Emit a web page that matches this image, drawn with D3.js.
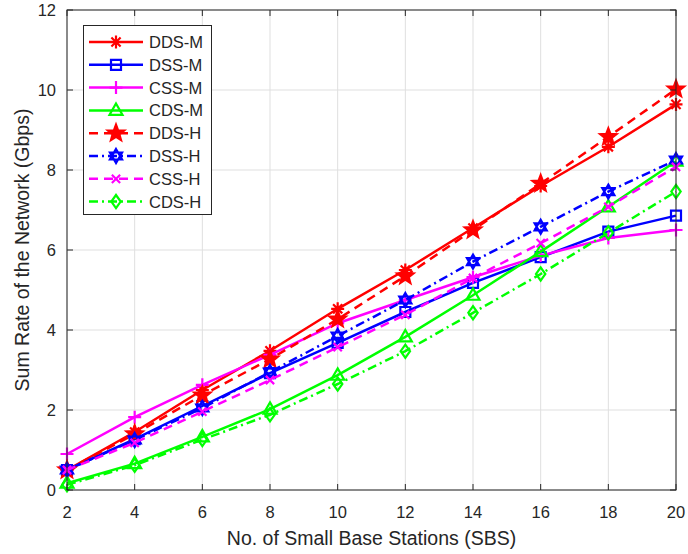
<!DOCTYPE html>
<html>
<head>
<meta charset="utf-8">
<script src="https://cdn.jsdelivr.net/npm/d3@7"></script>
<style>
  html, body { margin: 0; padding: 0; background: #fff; }
  svg { display: block; }
  text { font-family: "Liberation Sans", Arial, Helvetica, sans-serif; fill: #262626; }
</style>
</head>
<body>
<svg id="chart" width="688" height="554"></svg>
<script>
// Number of small base stations on the x axis
const sbs = [2, 4, 6, 8, 10, 12, 14, 16, 18, 20];

// Sum rate (Gbps) per scheme
const ddsM = [0.5, 1.45, 2.5, 3.48, 4.53, 5.5, 6.55, 7.6, 8.58, 9.64];
const dssM = [0.5, 1.27, 2.1, 2.92, 3.68, 4.45, 5.18, 5.82, 6.46, 6.86];
const cssM = [0.9, 1.82, 2.63, 3.38, 4.17, 4.75, 5.32, 5.86, 6.3, 6.5];
const cdsM = [0.17, 0.66, 1.33, 2.02, 2.87, 3.83, 4.87, 5.96, 7.08, 8.22];
const ddsH = [0.5, 1.4, 2.37, 3.27, 4.27, 5.35, 6.5, 7.66, 8.83, 10.02];
const dssH = [0.5, 1.25, 2.05, 2.95, 3.85, 4.75, 5.71, 6.58, 7.46, 8.25];
const cssH = [0.5, 1.18, 1.96, 2.75, 3.57, 4.38, 5.3, 6.17, 7.08, 8.08];
const cdsH = [0.13, 0.62, 1.26, 1.88, 2.65, 3.47, 4.43, 5.4, 6.43, 7.46];

const xTicks = [2, 4, 6, 8, 10, 12, 14, 16, 18, 20];
const yTicks = [0, 2, 4, 6, 8, 10, 12];

const seriesNames = ["DDS-M", "DSS-M", "CSS-M", "CDS-M", "DDS-H", "DSS-H", "CSS-H", "CDS-H"];
const seriesValues = [ddsM, dssM, cssM, cdsM, ddsH, dssH, cssH, cdsH];
const seriesColors = ["#ff0000", "#0000ff", "#ff00ff", "#00ff00", "#ff0000", "#0000ff", "#ff00ff", "#00ff00"];
const seriesDash = ["", "", "", "", "9,6", "9,4,2,4", "9,6", "9,4,2,4"];
const seriesMarker = ["asterisk", "square", "plus", "triangle", "pentagram", "hexagram", "cross", "diamond"];

const svg = d3.select("#chart");
const margin = { left: 67, right: 12, top: 10, bottom: 64 };
const W = 688, H = 554;
const x = d3.scaleLinear().domain([2, 20]).range([margin.left, W - margin.right]);
const y = d3.scaleLinear().domain([0, 12]).range([H - margin.bottom, margin.top]);
const axisColor = "#262626";

// Grid
const grid = svg.append("g");
grid.selectAll("line.gx").data(xTicks).join("line")
  .attr("x1", d => x(d)).attr("x2", d => x(d))
  .attr("y1", y(0)).attr("y2", y(12))
  .attr("stroke", "#dfdfdf").attr("stroke-width", 1);
grid.selectAll("line.gy").data(yTicks).join("line")
  .attr("x1", x(2)).attr("x2", x(20))
  .attr("y1", d => y(d)).attr("y2", d => y(d))
  .attr("stroke", "#dfdfdf").attr("stroke-width", 1);

// Marker shapes (open unless noted), size s is full width
function markerPath(type, s) {
  const r = s / 2;
  const p = d3.path();
  if (type === "asterisk") {
    for (let k = 0; k < 4; k++) {
      const a = k * Math.PI / 4;
      p.moveTo(-r * Math.cos(a), -r * Math.sin(a));
      p.lineTo(r * Math.cos(a), r * Math.sin(a));
    }
  } else if (type === "square") {
    p.rect(-r, -r, s, s);
  } else if (type === "plus") {
    p.moveTo(-r, 0); p.lineTo(r, 0); p.moveTo(0, -r); p.lineTo(0, r);
  } else if (type === "cross") {
    const q = r * 0.75;
    p.moveTo(-q, -q); p.lineTo(q, q); p.moveTo(-q, q); p.lineTo(q, -q);
  } else if (type === "triangle") {
    p.moveTo(0, -r * 1.05); p.lineTo(r, r * 0.7); p.lineTo(-r, r * 0.7); p.closePath();
  } else if (type === "diamond") {
    p.moveTo(0, -r * 1.2); p.lineTo(r * 0.85, 0); p.lineTo(0, r * 1.2); p.lineTo(-r * 0.85, 0); p.closePath();
  } else if (type === "pentagram") {
    for (let k = 0; k < 10; k++) {
      const a = -Math.PI / 2 + k * Math.PI / 5;
      const rr = k % 2 === 0 ? r : r * 0.42;
      if (k === 0) p.moveTo(rr * Math.cos(a), rr * Math.sin(a));
      else p.lineTo(rr * Math.cos(a), rr * Math.sin(a));
    }
    p.closePath();
  } else if (type === "hexagram") {
    for (let t = 0; t < 2; t++) {
      for (let k = 0; k < 3; k++) {
        const a = (t === 0 ? -Math.PI / 2 : Math.PI / 2) + k * 2 * Math.PI / 3;
        if (k === 0) p.moveTo(r * Math.cos(a), r * Math.sin(a));
        else p.lineTo(r * Math.cos(a), r * Math.sin(a));
      }
      p.closePath();
    }
  }
  return p.toString();
}
const markerSize = { asterisk: 13, square: 10, plus: 13, cross: 11, triangle: 13, diamond: 11, pentagram: 17, hexagram: 14 };

function drawMarker(g, type, color, cx, cy) {
  const filled = type === "pentagram";
  g.append("path")
    .attr("d", markerPath(type, markerSize[type]))
    .attr("transform", `translate(${cx},${cy})`)
    .attr("fill", filled ? color : "none")
    .attr("stroke", color)
    .attr("stroke-width", 2.2)
    .attr("stroke-linejoin", "miter");
}

// Series lines and markers
const line = d3.line().x((d, i) => x(sbs[i])).y(d => y(d));
const plot = svg.append("g");
seriesValues.forEach((vals, si) => {
  const g = plot.append("g");
  g.append("path")
    .datum(vals)
    .attr("d", line)
    .attr("fill", "none")
    .attr("stroke", seriesColors[si])
    .attr("stroke-width", 2.5)
    .attr("stroke-dasharray", seriesDash[si] || null);
  vals.forEach((v, i) => drawMarker(g, seriesMarker[si], seriesColors[si], x(sbs[i]), y(v)));
});

// Axes box with inward ticks on all four sides
const axes = svg.append("g");
axes.append("rect")
  .attr("x", x(2)).attr("y", y(12))
  .attr("width", x(20) - x(2)).attr("height", y(0) - y(12))
  .attr("fill", "none").attr("stroke", axisColor).attr("stroke-width", 1);
const tl = 6;
xTicks.forEach(t => {
  axes.append("line").attr("x1", x(t)).attr("x2", x(t)).attr("y1", y(0)).attr("y2", y(0) - tl).attr("stroke", axisColor);
  axes.append("line").attr("x1", x(t)).attr("x2", x(t)).attr("y1", y(12)).attr("y2", y(12) + tl).attr("stroke", axisColor);
  axes.append("text").attr("x", x(t)).attr("y", y(0) + 28)
    .attr("text-anchor", "middle").attr("font-size", 16.5).text(t);
});
yTicks.forEach(t => {
  axes.append("line").attr("x1", x(2)).attr("x2", x(2) + tl).attr("y1", y(t)).attr("y2", y(t)).attr("stroke", axisColor);
  axes.append("line").attr("x1", x(20)).attr("x2", x(20) - tl).attr("y1", y(t)).attr("y2", y(t)).attr("stroke", axisColor);
  axes.append("text").attr("x", x(2) - 11).attr("y", y(t) + 6)
    .attr("text-anchor", "end").attr("font-size", 16.5).text(t);
});

// Axis titles
svg.append("text")
  .attr("x", (x(2) + x(20)) / 2).attr("y", 545)
  .attr("text-anchor", "middle").attr("font-size", 19.5)
  .text("No. of Small Base Stations (SBS)");
svg.append("text")
  .attr("transform", `translate(29,${(y(0) + y(12)) / 2}) rotate(-90)`)
  .attr("text-anchor", "middle").attr("font-size", 19.5)
  .text("Sum Rate of the Network (Gbps)");

// Legend
const legend = svg.append("g");
legend.append("rect")
  .attr("x", 83.5).attr("y", 25.5).attr("width", 128).attr("height", 189)
  .attr("fill", "#fff").attr("stroke", axisColor).attr("stroke-width", 1);
seriesNames.forEach((name, si) => {
  const ly = 42 + si * 22.8;
  legend.append("line")
    .attr("x1", 89).attr("x2", 143).attr("y1", ly).attr("y2", ly)
    .attr("stroke", seriesColors[si]).attr("stroke-width", 2.5)
    .attr("stroke-dasharray", seriesDash[si] || null);
  drawMarker(legend, seriesMarker[si], seriesColors[si], 116, ly);
  legend.append("text")
    .attr("x", 149).attr("y", ly + 6)
    .attr("font-size", 16.5).text(name);
});
</script>
</body>
</html>
